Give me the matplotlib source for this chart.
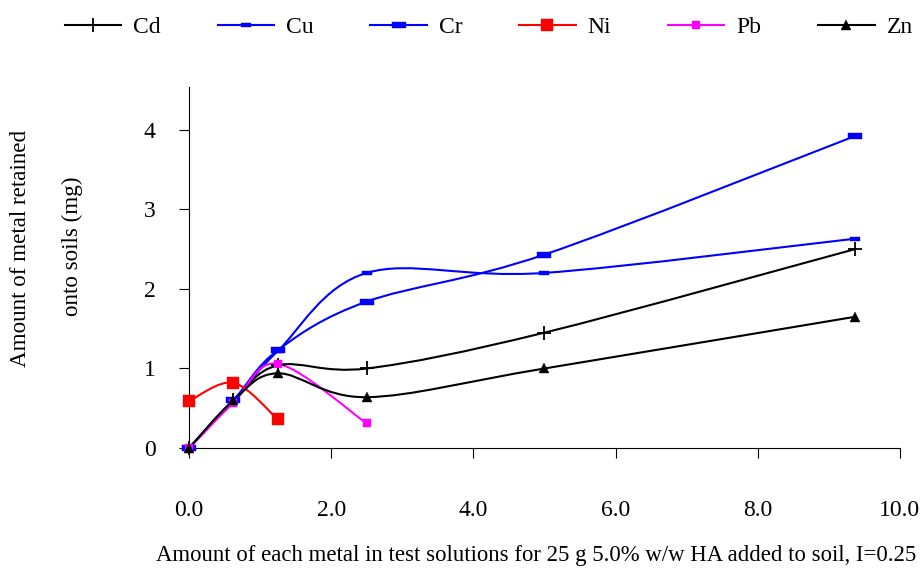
import numpy as np
import matplotlib
matplotlib.use("Agg")
import matplotlib.pyplot as plt
from matplotlib.path import Path
from matplotlib.patches import PathPatch
from matplotlib.lines import Line2D

plt.rcParams['font.family'] = ['Liberation Serif', 'DejaVu Serif']

# amounts of metal added (x) and retained (y)
x_full = [0.0, 0.625, 1.25, 2.5, 5.0, 9.375]
x_ni = [0.0, 0.625, 1.25]
x_pb = [0.0, 0.625, 1.25, 2.5]

cd = [0.0, 0.60, 1.04, 1.00, 1.45, 2.50]
cu = [0.0, 0.60, 1.22, 2.20, 2.20, 2.63]
cr = [0.0, 0.60, 1.23, 1.84, 2.43, 3.92]
ni = [0.59, 0.82, 0.36]
pb = [0.0, 0.57, 1.06, 0.31]
zn = [0.0, 0.60, 0.94, 0.64, 1.00, 1.65]

dash_cu = [(-1, -0.5), (1, -0.5), (1, 0.5), (-1, 0.5), (-1, -0.5)]
dash_cr = [(-1, -0.38), (1, -0.38), (1, 0.38), (-1, 0.38), (-1, -0.38)]

series = [
    ("Cd", x_full, cd, "black", "+", 10, 1.3),
    ("Cu", x_full, cu, "#0000ff", dash_cu, 6.5, 0.3),
    ("Cr", x_full, cr, "#0000ff", dash_cr, 10, 0.3),
    ("Ni", x_ni, ni, "#ff0000", "s", 8, 0.3),
    ("Pb", x_pb, pb, "#ff00ff", "s", 5.5, 0.3),
    ("Zn", x_full, zn, "black", "^", 7, 0.3),
]


def smooth_path(xs, ys):
    # excel-like smoothed line (catmull-rom as cubic bezier)
    p = np.column_stack([xs, ys])
    n = len(p)
    verts = [p[0]]
    codes = [Path.MOVETO]
    for i in range(n - 1):
        p0 = p[i - 1] if i > 0 else p[i]
        p1 = p[i]
        p2 = p[i + 1]
        p3 = p[i + 2] if i + 2 < n else p[i + 1]
        verts += [p1 + (p2 - p0) / 6, p2 - (p3 - p1) / 6, p2]
        codes += [Path.CURVE4] * 3
    return Path(verts, codes)


fig = plt.figure(figsize=(9.22, 5.68), dpi=100)
ax = fig.add_axes([0.205, 0.211, 0.771, 0.636])

handles = []
for name, xs, ys, col, mk, ms, mew in series:
    ax.add_patch(PathPatch(smooth_path(xs, ys), fill=False, edgecolor=col,
                           lw=1.5, zorder=2))
    ax.plot(xs, ys, linestyle="none", marker=mk, color=col, markersize=ms,
            markeredgewidth=mew, clip_on=False, zorder=3)
    handles.append(Line2D([], [], color=col, lw=1.5, marker=mk, markersize=ms,
                          markeredgewidth=mew, label=name))

ax.set_xlim(0, 10)
ax.set_ylim(0, 4.535)
ax.set_xticks([0, 2, 4, 6, 8, 10])
ax.set_xticklabels(["0.0", "2.0", "4.0", "6.0", "8.0", "10.0"])
ax.set_yticks([0, 1, 2, 3, 4])
ax.spines['top'].set_visible(False)
ax.spines['right'].set_visible(False)
ax.tick_params(axis='x', direction='out', length=7, pad=30, labelsize=17)
ax.tick_params(axis='y', direction='out', length=7, pad=17, labelsize=17)

fig.text(0.581, 1 - 555 / 568, "Amount of each metal in test solutions for 25 g 5.0% w/w HA added to soil, I=0.25",
         fontsize=16.4, ha='center', va='center')
fig.text(0.022, 0.562, "Amount of metal retained", rotation=90, fontsize=16.6,
         ha='center', va='center')
fig.text(0.079, 0.567, "onto soils (mg)", rotation=90, fontsize=16.6,
         ha='center', va='center')

fig.legend(handles=handles, loc='center', bbox_to_anchor=(0.53, 0.952), ncol=6,
           frameon=False, fontsize=17, handlelength=2.4, handletextpad=0.5,
           columnspacing=2.4)

fig.savefig("out.png", dpi=100)
